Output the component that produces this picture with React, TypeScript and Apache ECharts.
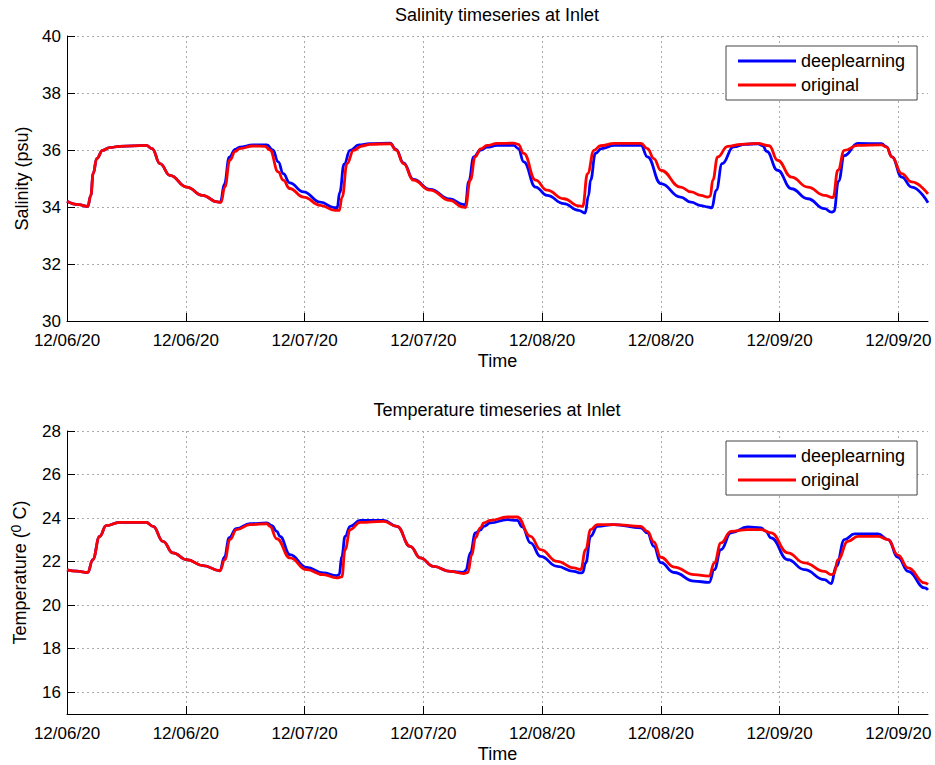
import React, { useEffect, useRef } from "react";
import * as echarts from "echarts";

// x axis: hours since 12/06/20 00:00, ticks every 12 hours
const X_TICK_LABELS = ["12/06/20", "12/06/20", "12/07/20", "12/07/20", "12/08/20", "12/08/20", "12/09/20", "12/09/20"];
const SERIES_NAMES = ["deeplearning", "original"];
const TEMP_TICKS = [16, 18, 20, 22, 24, 26, 28];

// Salinity - deeplearning
const SAL_DL_T = [0, 1.2, 2.1, 2.4, 2.65, 3.0, 3.6, 4.3, 5.3, 8.0, 8.6, 9.4, 10.4, 12.1, 13.7, 15.2, 15.5, 15.9, 16.4, 17.0, 17.45, 18.8, 20.2, 20.8, 21.35, 21.85, 22.5, 23.9, 25.6, 27.0, 27.3, 27.55, 28.0, 28.6, 29.5, 30.6, 32.65, 33.25, 34.0, 35.0, 36.7, 38.7, 40.0, 40.25, 40.6, 41.1, 41.8, 42.45, 43.45, 45.15, 45.6, 46.15, 47.35, 48.5, 50.2, 51.7, 52.35, 52.7, 52.9, 53.4, 54.0, 55.3, 58.0, 58.65, 60.0, 62.0, 63.05, 64.05, 64.75, 65.15, 65.6, 66.2, 67.35, 68.5, 69.8, 70.3, 70.7, 71.8, 73.2, 74.85, 76.55, 77.25, 77.5, 77.95, 78.55, 79.9, 82.3, 82.8, 83.35, 84.35, 85.35, 87.0];
const SAL_DL = [34.2, 34.08, 34.02, 34.4, 35.18, 35.7, 35.99, 36.08, 36.13, 36.16, 36.05, 35.52, 35.11, 34.7, 34.41, 34.18, 34.17, 34.8, 35.75, 36.02, 36.1, 36.18, 36.18, 36.0, 35.58, 35.17, 34.85, 34.53, 34.17, 33.98, 33.97, 34.5, 35.5, 35.99, 36.18, 36.22, 36.24, 36.02, 35.55, 34.97, 34.62, 34.28, 34.09, 34.08, 34.9, 35.76, 36.0, 36.1, 36.16, 36.16, 36.05, 35.58, 34.7, 34.41, 34.12, 33.88, 33.79, 34.4, 34.94, 35.88, 36.05, 36.16, 36.16, 35.76, 34.82, 34.35, 34.17, 34.05, 34.0, 33.97, 34.59, 35.52, 36.11, 36.2, 36.22, 36.15, 35.95, 35.29, 34.64, 34.29, 33.94, 33.82, 33.85, 34.9, 35.8, 36.23, 36.22, 36.12, 35.76, 35.05, 34.7, 34.15];

// Salinity - original
const SAL_OR_T = [0, 1.2, 2.1, 2.4, 2.65, 3.0, 3.6, 4.3, 5.3, 8.0, 8.6, 9.4, 10.4, 12.1, 13.7, 15.2, 15.55, 15.95, 16.45, 17.0, 17.45, 18.8, 20.0, 20.5, 21.35, 21.85, 22.5, 23.9, 25.6, 27.1, 27.5, 27.8, 28.3, 28.95, 29.8, 30.6, 32.65, 33.25, 34.0, 35.0, 36.7, 38.7, 40.0, 40.25, 40.75, 41.25, 41.8, 42.45, 43.45, 45.15, 45.6, 46.15, 47.35, 48.5, 50.2, 51.7, 52.1, 52.6, 53.25, 53.9, 55.3, 58.0, 58.65, 59.3, 60.0, 62.0, 63.05, 64.05, 64.75, 65.0, 65.25, 65.75, 66.75, 68.1, 69.8, 70.95, 71.8, 73.2, 74.85, 76.55, 77.4, 77.9, 78.55, 79.9, 82.3, 82.8, 83.35, 84.35, 85.35, 87.0];
const SAL_OR = [34.2, 34.08, 34.02, 34.4, 35.18, 35.7, 35.99, 36.08, 36.13, 36.16, 36.05, 35.52, 35.11, 34.7, 34.41, 34.18, 34.16, 34.7, 35.64, 35.95, 36.05, 36.14, 36.13, 36.0, 35.23, 34.94, 34.65, 34.35, 34.06, 33.88, 33.88, 34.35, 35.52, 35.99, 36.14, 36.2, 36.22, 36.0, 35.52, 34.94, 34.59, 34.23, 34.0, 33.98, 34.94, 35.76, 36.04, 36.16, 36.23, 36.24, 36.2, 35.88, 34.94, 34.59, 34.29, 34.04, 34.02, 35.17, 35.99, 36.15, 36.23, 36.23, 36.05, 35.7, 35.29, 34.7, 34.53, 34.41, 34.35, 34.38, 34.94, 35.76, 36.13, 36.2, 36.23, 36.15, 35.64, 35.05, 34.7, 34.41, 34.33, 35.29, 35.99, 36.16, 36.18, 36.1, 35.76, 35.17, 34.88, 34.46];

// Temperature - deeplearning
const TEMP_DL_T = [0, 1.0, 2.1, 2.6, 3.3, 3.96, 5.3, 8.0, 8.7, 9.7, 10.7, 12.1, 13.75, 15.45, 15.9, 16.4, 17.1, 18.5, 20.2, 20.7, 21.2, 21.52, 22.53, 24.22, 25.9, 27.26, 27.5, 27.77, 28.1, 28.61, 29.62, 31.98, 33.34, 34.68, 35.7, 37.04, 38.74, 40.08, 40.3, 40.76, 41.27, 41.77, 42.11, 42.79, 44.48, 45.49, 46.0, 46.84, 47.85, 49.54, 51.22, 51.9, 52.1, 52.41, 52.91, 53.59, 55.27, 57.97, 58.65, 59.3, 60.0, 61.35, 63.37, 64.89, 65.4, 66.08, 67.09, 68.78, 70.13, 70.6, 71.14, 72.83, 74.51, 76.54, 77.22, 77.72, 78.56, 79.58, 81.95, 82.96, 83.97, 84.99, 86.67, 87.0];
const TEMP_DL = [21.62, 21.56, 21.5, 22.09, 23.16, 23.65, 23.8, 23.8, 23.62, 22.93, 22.4, 22.09, 21.82, 21.58, 22.2, 23.1, 23.52, 23.74, 23.78, 23.65, 23.39, 23.16, 22.32, 21.74, 21.48, 21.36, 21.4, 22.24, 23.16, 23.62, 23.89, 23.89, 23.62, 22.7, 22.17, 21.78, 21.55, 21.51, 21.6, 22.4, 23.32, 23.45, 23.62, 23.78, 23.93, 23.89, 23.6, 22.86, 22.24, 21.78, 21.55, 21.48, 21.5, 21.94, 23.16, 23.62, 23.7, 23.55, 23.32, 22.7, 21.95, 21.5, 21.1, 21.05, 21.63, 22.55, 23.32, 23.59, 23.55, 23.4, 23.09, 22.09, 21.63, 21.17, 20.99, 21.78, 23.01, 23.27, 23.27, 23.01, 22.2, 21.55, 20.79, 20.7];

// Temperature - original
const TEMP_OR_T = [0, 1.0, 2.1, 2.6, 3.3, 3.96, 5.3, 8.0, 8.7, 9.7, 10.7, 12.1, 13.75, 15.45, 15.95, 16.46, 17.13, 18.5, 20.2, 20.5, 21.2, 22.53, 24.22, 25.9, 27.26, 27.77, 28.1, 28.61, 29.62, 31.98, 33.34, 34.68, 35.7, 37.04, 38.74, 40.08, 40.5, 40.9, 41.27, 41.77, 42.11, 42.79, 44.48, 45.49, 46.84, 47.85, 49.54, 51.22, 51.9, 52.41, 52.91, 53.59, 55.27, 57.97, 58.65, 59.3, 60.0, 61.35, 63.37, 64.89, 65.4, 66.08, 67.09, 68.78, 70.13, 71.14, 72.83, 74.51, 76.54, 77.22, 77.5, 77.9, 78.9, 79.92, 81.95, 82.96, 83.97, 84.99, 86.67, 87.0];
const TEMP_OR = [21.62, 21.56, 21.5, 22.09, 23.16, 23.65, 23.8, 23.8, 23.62, 22.93, 22.4, 22.09, 21.82, 21.58, 22.09, 23.01, 23.47, 23.7, 23.74, 23.62, 23.05, 22.17, 21.63, 21.4, 21.25, 21.3, 22.55, 23.47, 23.8, 23.85, 23.62, 22.7, 22.17, 21.78, 21.55, 21.45, 21.5, 22.3, 23.1, 23.55, 23.78, 23.89, 24.05, 24.05, 23.16, 22.55, 22.01, 21.71, 21.63, 22.55, 23.47, 23.7, 23.7, 23.62, 23.39, 22.9, 22.2, 21.75, 21.4, 21.33, 21.94, 22.86, 23.39, 23.47, 23.47, 23.32, 22.4, 21.94, 21.55, 21.4, 21.45, 22.09, 22.93, 23.16, 23.16, 23.01, 22.3, 21.71, 21.02, 20.95];

const FONT = "'Liberation Sans', Arial, Helvetica, sans-serif";
const BLUE = "#0000ff";
const RED = "#ff0000";

const X_TICK_VALUES = X_TICK_LABELS.map((_, i) => i * 12);

const pairs = (t: number[], v: number[]) => t.map((x, i) => [x, v[i]]);

const xLabel = (v: number) => {
  const i = v / 12;
  const r = Math.round(i);
  if (Math.abs(i - r) < 1e-6 && r >= 0 && r < X_TICK_LABELS.length) return X_TICK_LABELS[r];
  return "";
};

const baseText = { color: "#000", fontSize: 18, fontFamily: FONT };
const tickText = { color: "#000", fontSize: 17, fontFamily: FONT, lineHeight: 14 };
const gridLine = { show: true, lineStyle: { type: [2, 3], color: "#aaaaaa", width: 1 } };

function makeXAxis(gridIndex: number) {
  return {
    type: "value",
    gridIndex,
    min: 0,
    max: 87,
    interval: 12,
    name: "Time",
    nameLocation: "middle",
    nameGap: 31,
    nameTextStyle: { ...baseText },
    axisLine: { show: true, onZero: false, lineStyle: { color: "#000", width: 1 } },
    axisTick: { show: true, inside: true, length: 8, lineStyle: { color: "#000" }, customValues: X_TICK_VALUES },
    axisLabel: { ...tickText, margin: 12, formatter: xLabel, hideOverlap: false, customValues: X_TICK_VALUES },
    splitLine: gridLine,
  };
}

function makeSeries(name: string, data: number[][], color: string, idx: number) {
  return {
    type: "line",
    name,
    xAxisIndex: idx,
    yAxisIndex: idx,
    data,
    symbol: "none",
    smooth: 0.45,
    smoothMonotone: "x",
    lineStyle: { color, width: 2.8 },
    itemStyle: { color },
    z: name === "original" ? 3 : 2,
  };
}

function makeLegend(top: number) {
  return {
    left: 726,
    top,
    orient: "vertical",
    data: SERIES_NAMES,
    icon: "rect",
    itemWidth: 58,
    itemHeight: 3,
    itemGap: 6,
    padding: [6, 12, 6, 12],
    borderColor: "#444",
    borderWidth: 1,
    borderRadius: 0,
    backgroundColor: "#fff",
    selectedMode: false,
    textStyle: { ...baseText, lineHeight: 18 },
  };
}

export default function App() {
  const ref = useRef<HTMLDivElement>(null);
  useEffect(() => {
    if (!ref.current) return;
    const chart = echarts.init(ref.current, null, { renderer: "svg" });
    const option: any = {
      animation: false,
      backgroundColor: "#fff",
      textStyle: { fontFamily: FONT },
      graphic: [
        {
          type: "text",
          x: 497,
          y: 15,
          style: { text: "Salinity timeseries at Inlet", font: `18px ${FONT}`, fill: "#000", textAlign: "center", textVerticalAlign: "middle" },
        },
        {
          type: "text",
          x: 497,
          y: 410,
          style: { text: "Temperature timeseries at Inlet", font: `18px ${FONT}`, fill: "#000", textAlign: "center", textVerticalAlign: "middle" },
        },
      ],
      grid: [
        { left: 67, top: 36, width: 861, height: 285, containLabel: false },
        { left: 67, top: 431, width: 861, height: 283, containLabel: false },
      ],
      legend: [makeLegend(46), makeLegend(441)],
      xAxis: [makeXAxis(0), makeXAxis(1)],
      yAxis: [
        {
          type: "value",
          gridIndex: 0,
          min: 30,
          max: 40,
          interval: 2,
          name: "Salinity (psu)",
          nameLocation: "middle",
          nameGap: 33,
          nameTextStyle: { ...baseText },
          axisLine: { show: true, onZero: false, lineStyle: { color: "#000", width: 1 } },
          axisTick: { show: true, inside: true, length: 8, lineStyle: { color: "#000" } },
          axisLabel: { ...tickText, margin: 6 },
          splitLine: gridLine,
        },
        {
          type: "value",
          gridIndex: 1,
          min: 15,
          max: 28,
          minInterval: 2,
          maxInterval: 2,
          name: "Temperature ({sup|0} C)",
          nameLocation: "middle",
          nameGap: 28,
          nameTextStyle: {
            ...baseText,
            lineHeight: 22,
            rich: { sup: { fontSize: 14, fontFamily: FONT, color: "#000", verticalAlign: "top", lineHeight: 22 } },
          },
          axisLine: { show: true, onZero: false, lineStyle: { color: "#000", width: 1 } },
          axisTick: { show: true, inside: true, length: 8, lineStyle: { color: "#000" }, customValues: TEMP_TICKS },
          axisLabel: { ...tickText, margin: 6, customValues: TEMP_TICKS },
          splitLine: gridLine,
        },
      ],
      series: [
        makeSeries(SERIES_NAMES[0], pairs(SAL_DL_T, SAL_DL), BLUE, 0),
        makeSeries(SERIES_NAMES[1], pairs(SAL_OR_T, SAL_OR), RED, 0),
        makeSeries(SERIES_NAMES[0], pairs(TEMP_DL_T, TEMP_DL), BLUE, 1),
        makeSeries(SERIES_NAMES[1], pairs(TEMP_OR_T, TEMP_OR), RED, 1),
      ],
    };
    chart.setOption(option);
    return () => chart.dispose();
  }, []);
  return (
    <div
      ref={ref}
      style={{ position: "absolute", left: 0, top: 0, width: 935, height: 765, background: "#fff" }}
    />
  );
}
